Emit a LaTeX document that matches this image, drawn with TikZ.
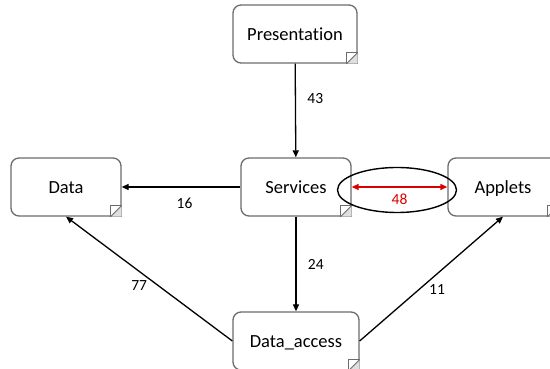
\documentclass[tikz,border=0pt]{standalone}
\usepackage{fontspec}
\setmainfont{Carlito}[RawFeature=-liga]
\usepackage{tikz}
\usetikzlibrary{arrows.meta,shapes.geometric}

\begin{document}
\begin{tikzpicture}[x=1pt,y=1pt,
    box/.style={draw=gray!85!black, line width=1.3pt, rounded corners=8pt, fill=white,
        minimum width=110pt, minimum height=58pt, text height=14pt, text depth=0pt,
        font=\fontsize{18.5}{22}\selectfont},
    conn/.style={line width=1.3pt, -{Triangle[length=7pt,width=6pt]}},
    lbl/.style={font=\fontsize{15.5}{18}\selectfont},
    fold/.style={draw=gray!85!black, line width=0.8pt}]
    \useasboundingbox (0,0) rectangle (550,369);

    % the boxes
    \node[box, minimum width=124pt] (pres) at (295,335) {Presentation};
    \node[box] (serv) at (296,182) {Services};
    \node[box] (data) at (66,182) {Data};
    \node[box] (appl) at (503,182) {Applets};
    \node[box, minimum width=126pt] (dacc) at (296,28) {Data\_access};

    % folded corners
    \foreach \b in {pres,serv,data,appl,dacc} {
        \fill[white] ([xshift=-12pt,yshift=-1pt]\b.south east) rectangle ([xshift=1pt,yshift=12pt]\b.south east);
        \draw[draw=gray!85!black, line width=1.3pt] ([xshift=-12pt]\b.south east) -- (\b.south east) -- ([yshift=12pt]\b.south east);
        \fill[gray!25] ([xshift=-11pt]\b.south east) -- ([yshift=11pt]\b.south east) -- (\b.south east) -- cycle;
        \draw[fold] ([xshift=-11pt]\b.south east) |- ([yshift=11pt]\b.south east);
        \draw[fold] ([xshift=-11pt]\b.south east) -- ([yshift=11pt]\b.south east);
    }

    % dependencies
    \draw[conn] (pres) -- node[lbl, pos=0.37, right=8pt] (l43) {43} (serv);
    \draw[conn] (serv) -- node[lbl, pos=0.47, below=7pt] (l16) {16} (data);
    \draw[conn] (serv) -- node[lbl, pos=0.51, right=8pt] (l24) {24} (dacc);
    \draw[conn] (dacc.west) -- node[lbl, pos=0.56, below=5pt] (l77) {77} (data.south);
    \draw[conn] (dacc.east) -- node[lbl, pos=0.54, below=7pt] (l11) {11} (appl.south);

    % cycle
    \node[draw, ellipse, line width=1.4pt, minimum width=119pt, minimum height=45pt] (cyc) at (397,179) {};
    \draw[red!85!black, line width=1.3pt, {Triangle[length=7pt,width=6pt]}-{Triangle[length=7pt,width=6pt]}]
        (serv) -- node[lbl, pos=0.5, below=3pt, text=red!85!black] (l48) {48} (appl);
\end{tikzpicture}
\end{document}
